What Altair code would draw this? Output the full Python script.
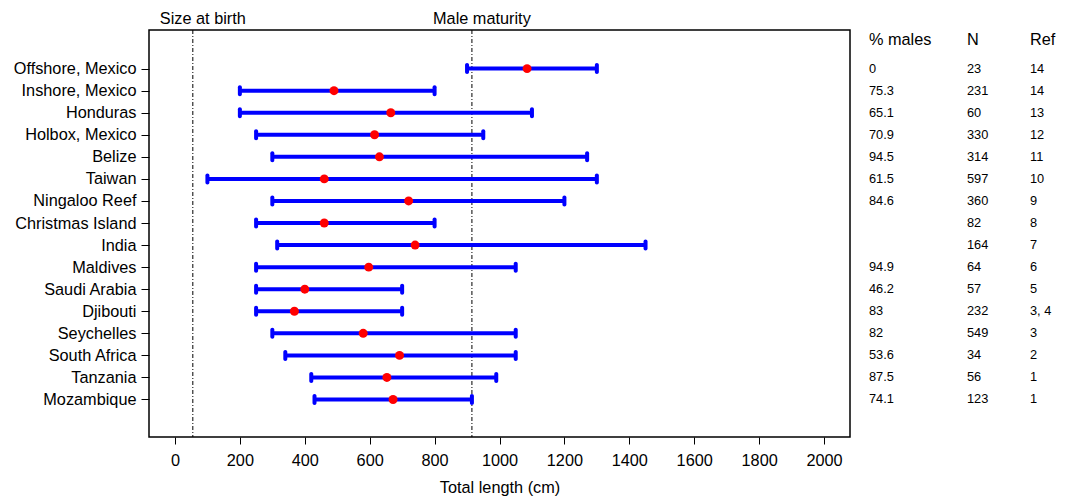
import json
import altair as alt
import pandas as pd

FONT = "Liberation Sans"
FS = 16.3

sites = ["Offshore, Mexico", "Inshore, Mexico", "Honduras", "Holbox, Mexico\u00a0",
         "Belize", "Taiwan\u00a0", "Ningaloo Reef", "Christmas Island", "India",
         "Maldives", "Saudi Arabia", "Djibouti", "Seychelles", "South Africa",
         "Tanzania\u00a0", "Mozambique"]
min_len = [900, 200, 200, 250, 300, 100, 300, 250, 315, 250, 250, 250, 300, 340, 420, 430]
max_len = [1300, 800, 1100, 950, 1270, 1300, 1200, 800, 1450, 1050, 700, 700, 1050, 1050, 990, 915]
mean_len = [1085, 490, 665, 615, 630, 460, 720, 460, 740, 597, 400, 368, 580, 692, 653, 672]
pct_males = ["0", "75.3", "65.1", "70.9", "94.5", "61.5", "84.6", "", "", "94.9",
             "46.2", "83", "82", "53.6", "87.5", "74.1"]
n_sharks = ["23", "231", "60", "330", "314", "597", "360", "82", "164", "64",
            "57", "232", "549", "34", "56", "123"]
refs = ["14", "14", "13", "12", "11", "10", "9", "8", "7", "6", "5", "3, 4", "3", "2", "1", "1"]
ref_lines = [55, 915]
ref_labels = ["Size at birth", "Male maturity"]
col_headers = ["% males", "N", "Ref"]
x_ticks = list(range(0, 2001, 200))

rows = list(range(1, len(sites) + 1))
df = pd.DataFrame({"row": rows, "site": sites, "lo": min_len, "hi": max_len, "mean": mean_len})
ends = pd.DataFrame({"row": rows + rows, "v": min_len + max_len})
table = pd.DataFrame({
    "row": rows * 3,
    "ci": [0] * 16 + [1] * 16 + [2] * 16,
    "val": pct_males + n_sharks + refs,
})
head_df = pd.DataFrame({"ci": [0, 1, 2], "col": col_headers})
refs_df = pd.DataFrame({"x": ref_lines, "label": ref_labels})

xs = alt.Scale(domain=[-80, 2080], nice=False, zero=False)
ys = alt.Scale(domain=[-0.75, 17.7], reverse=True, nice=False, zero=False)
tscale = alt.Scale(domain=[0, 1, 2], range=[720, 818, 881], zero=False, nice=False)

label_expr = json.dumps(sites) + "[datum.value - 1]"

x_axis = alt.Axis(values=x_ticks, format="d", labelFontSize=FS, labelFont=FONT,
                  labelColor="black", tickColor="black", tickSize=7, domain=False,
                  labelPadding=8, titleFontSize=FS, titleFont=FONT,
                  titleFontWeight="normal", titleColor="black", titlePadding=11,
                  grid=False)
y_axis = alt.Axis(values=rows, labelExpr=label_expr, labelFontSize=FS, labelFont=FONT,
                  labelColor="black", tickColor="black", tickSize=8, domain=False,
                  labelPadding=5, grid=False, labelOverlap=False)
y_enc = alt.Y("row:Q", scale=ys, axis=y_axis, title=None)

vlines = alt.Chart(refs_df).mark_rule(color="black", strokeWidth=1,
                                      strokeDash=[4, 2, 1, 2]).encode(
    x=alt.X("x:Q", scale=xs, axis=x_axis, title="Total length (cm)"))
vlabels = alt.Chart(refs_df).mark_text(fontSize=FS, font=FONT, dx=10,
                                       baseline="middle", color="black").encode(
    x="x:Q", y=alt.value(-11), text="label:N")
bars = alt.Chart(df).mark_rule(color="#0000ff", strokeWidth=4).encode(
    x="lo:Q", x2="hi:Q", y=y_enc)
caps = alt.Chart(ends).mark_tick(color="#0000ff", thickness=4, size=11,
                                 cornerRadius=2, opacity=1, orient="vertical").encode(
    x="v:Q", y=y_enc)
points = alt.Chart(df).mark_circle(color="#ff0000", size=80, opacity=1).encode(
    x="mean:Q", y=y_enc)

main = alt.layer(vlines, bars, caps, points, vlabels)

tab_text = alt.Chart(table).mark_text(align="left", baseline="middle",
                                      fontSize=12.8, font=FONT, color="black").encode(
    x=alt.X("ci:Q", scale=tscale, axis=None), y=y_enc, text="val:N")
tab_head = alt.Chart(head_df).mark_text(align="left", baseline="middle",
                                        fontSize=FS, font=FONT, color="black").encode(
    x=alt.X("ci:Q", scale=tscale, axis=None), y=alt.value(10), text="col:N")
tab = alt.layer(tab_text, tab_head)

chart = alt.layer(main, tab).resolve_scale(x="independent").properties(
    width=701, height=407,
    padding={"left": 5, "top": 3, "right": 5, "bottom": 0},
).configure_view(
    stroke="black", strokeWidth=1.5
).configure_axis(
    labelOverlap=False
)

chart.save("out.html", embed_options={"renderer": "svg", "actions": False})
